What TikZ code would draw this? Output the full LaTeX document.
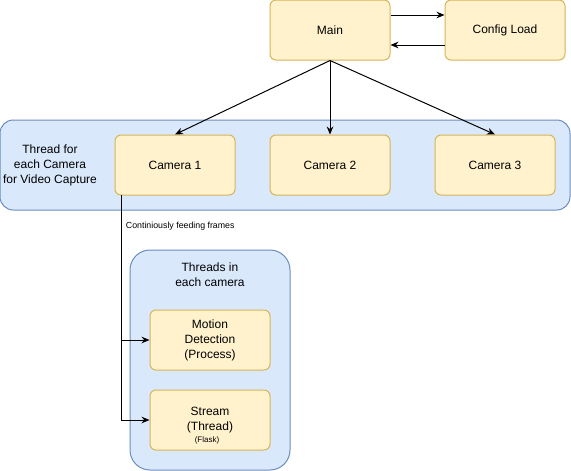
\documentclass[tikz,border=0pt]{standalone}
\usepackage{fontspec}
\setmainfont{Liberation Sans}
\usetikzlibrary{arrows.meta}
\definecolor{boxfill}{HTML}{FFF2CC}
\definecolor{boxline}{HTML}{D6B656}
\definecolor{grpfill}{HTML}{DAE8FC}
\definecolor{grpline}{HTML}{6C8EBF}
\tikzset{
  box/.style={draw=boxline, fill=boxfill, rounded corners=4.5pt, minimum width=90pt, minimum height=45pt, align=center, font=\fontsize{9}{11.25}\selectfont},
  group/.style={draw=grpline, fill=grpfill, rounded corners=10pt},
  txt/.style={align=center, font=\fontsize{9}{11.25}\selectfont},
  small/.style={font=\fontsize{6.6}{7.5}\selectfont}
}
\begin{document}
\begin{tikzpicture}[x=0.75pt, y=-0.75pt, line width=0.75pt, >={Stealth[length=6pt,width=5pt]}]
      \useasboundingbox (0,0) rectangle (571,471);
      % containers
      \node[group, minimum width=427.5pt, minimum height=67.5pt] (capture) at (285,165) {};
      \node[group, rounded corners=15pt, minimum width=120pt, minimum height=165pt] (workers) at (210,360) {};
      \node[txt] (capturetxt) at (50,165) {Thread for\\each Camera\\for Video Capture};
      \node[txt] (workerstxt) at (210,275) {Threads in\\each camera};
      % boxes
      \draw
        (330,30) node[box] (main){Main}
        (505,30) node[box] (config){Config Load}
        (175,165) node[box] (cam1){Camera 1}
        (330,165) node[box] (cam2){Camera 2}
        (495,165) node[box] (cam3){Camera 3}
        (210,340) node[box] (motion){Motion\\Detection\\(Process)}
        (210,420) node[box] (stream){Stream\\(Thread)};
      \node[small, font=\fontsize{6}{7}\selectfont] (flask) at (207,440) {(Flask)};
      \coordinate (feed) at (121,195);
      \begin{scope}[->]
        \draw ([yshift=11.25pt]main.east) to ([yshift=11.25pt]config.west);
        \draw ([yshift=-11.25pt]config.west) to ([yshift=-11.25pt]main.east);
        \draw (main.south) to (cam1.north);
        \draw (main.south) to (cam2.north);
        \draw (main.south) to (cam3.north);
        \draw (feed) |- (motion);
        \draw (feed) |- (stream);
      \end{scope}
      \node[small, anchor=west] (feedtxt) at (121,226) {Continiously feeding frames};
    \end{tikzpicture}
\end{document}
